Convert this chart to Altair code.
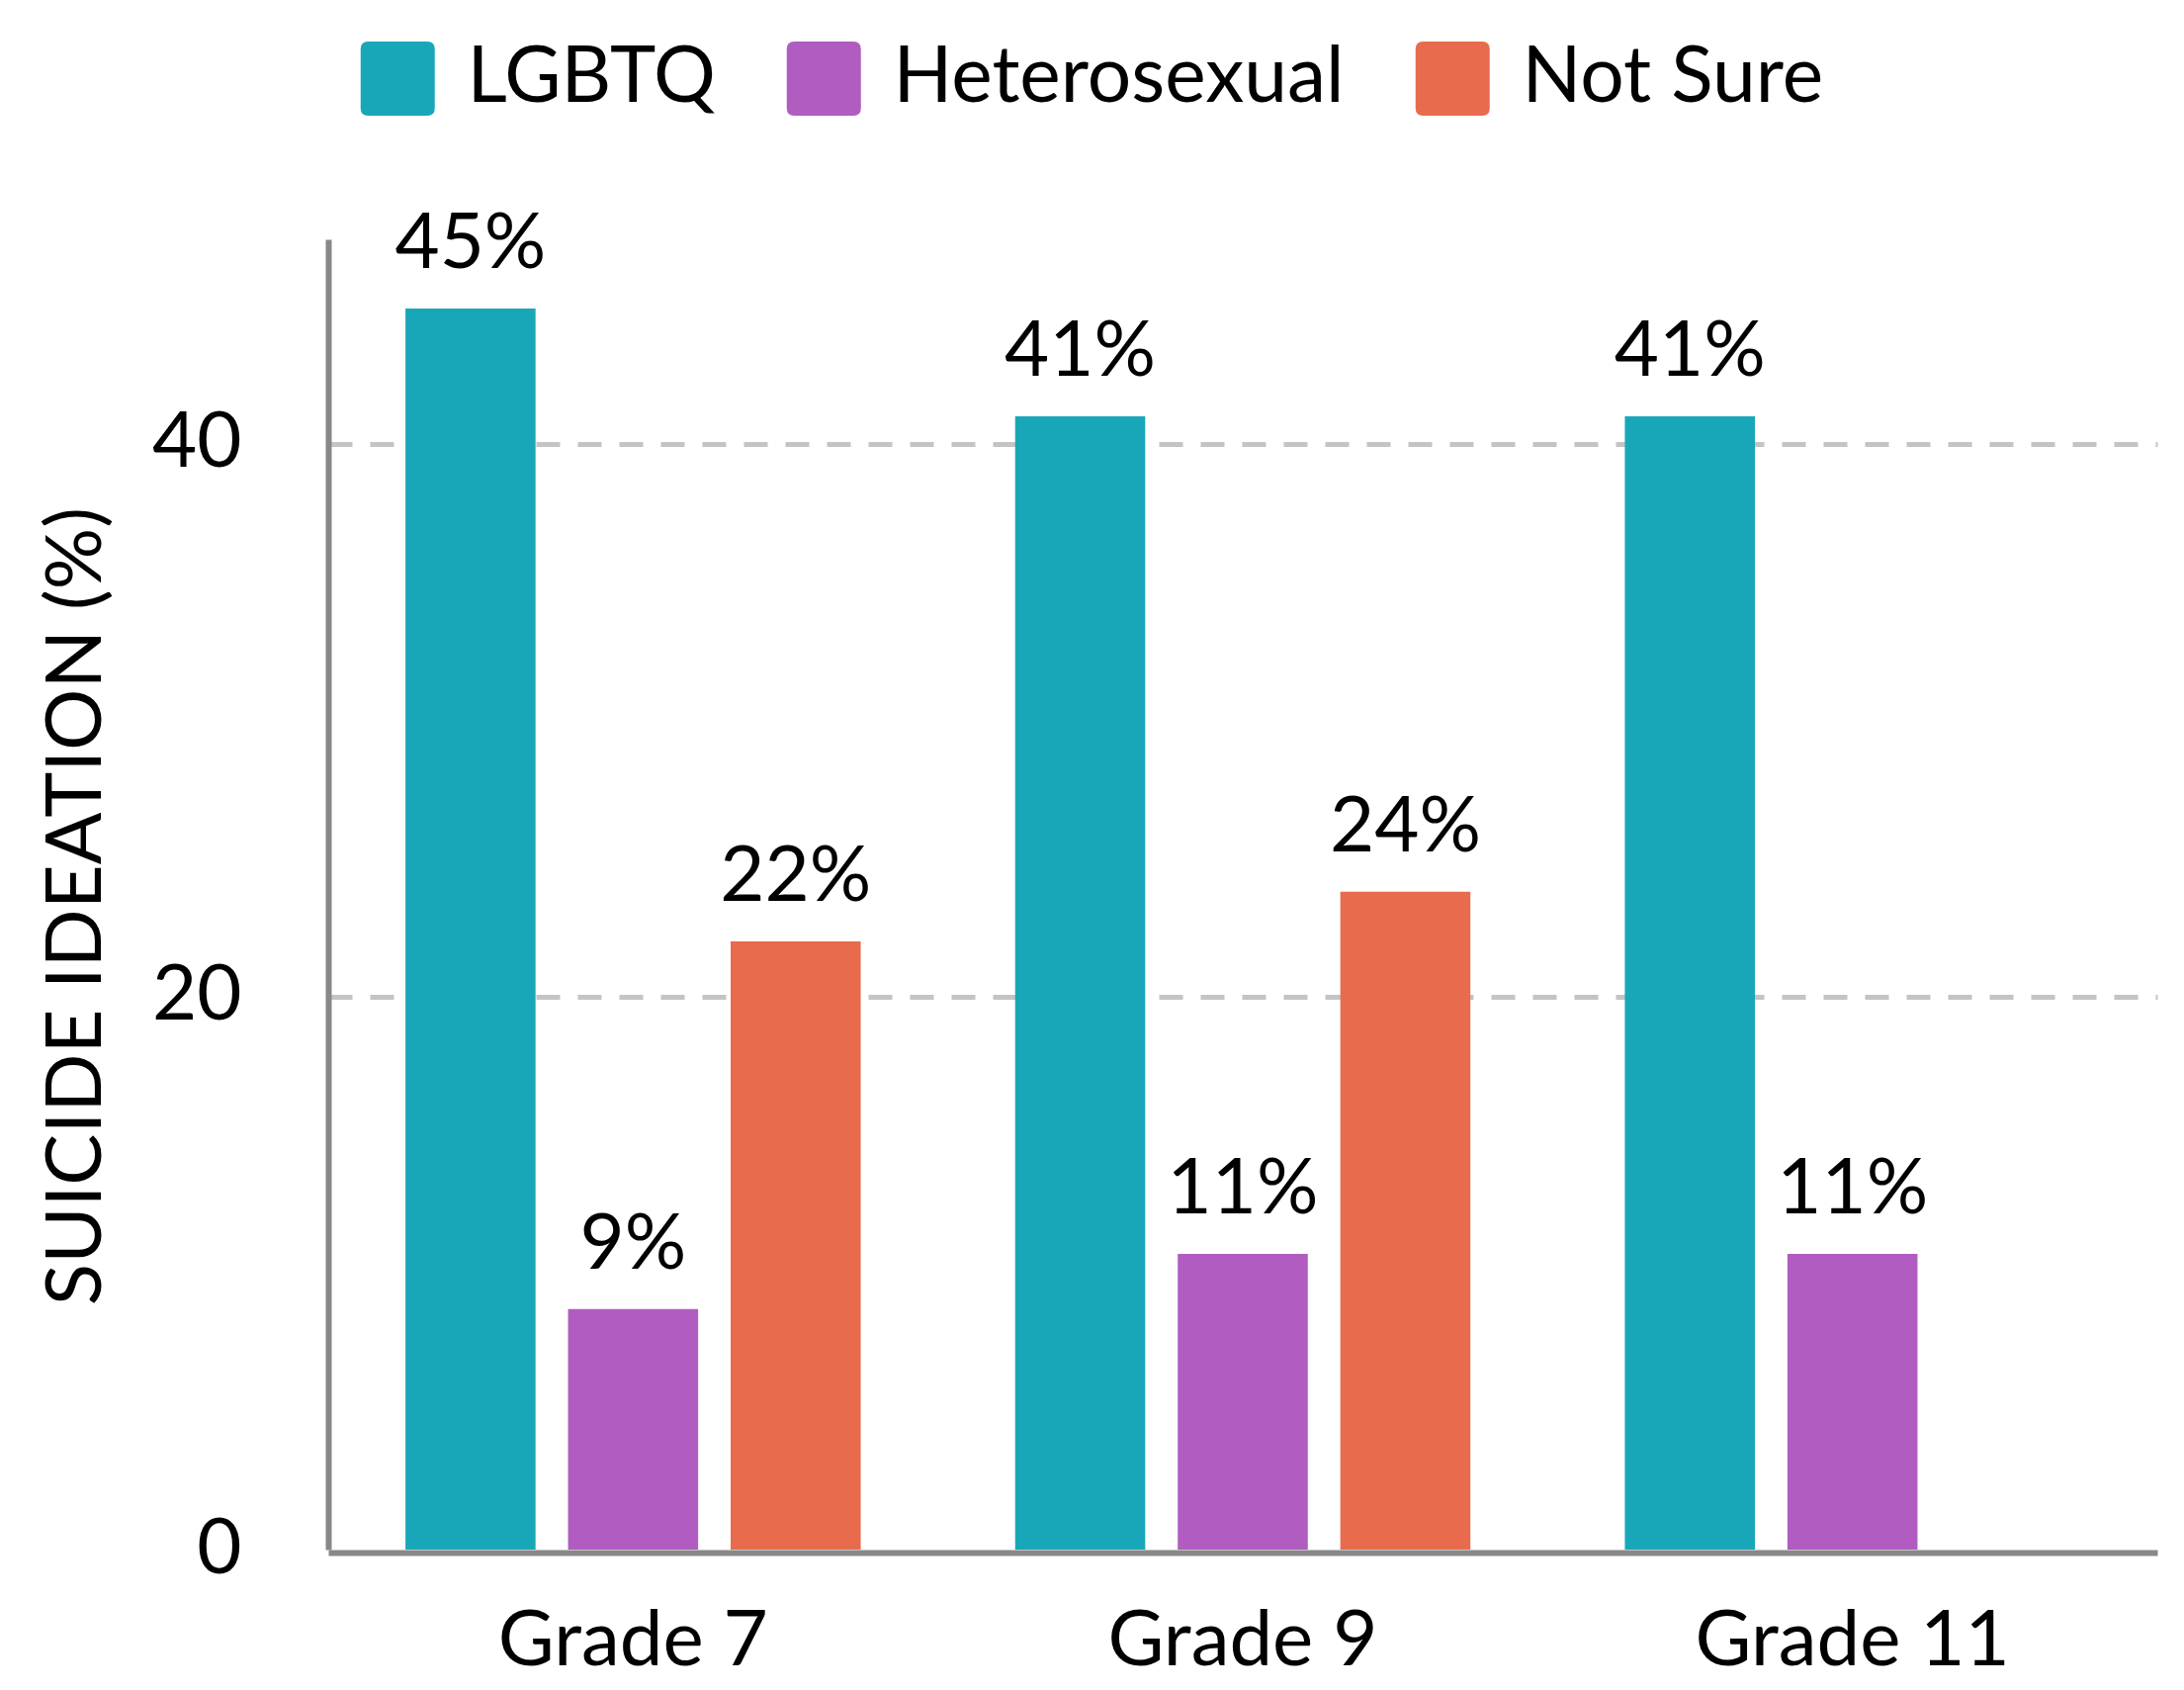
import altair as alt
import pandas as pd

grades = ["Grade 7", "Grade 7", "Grade 7", "Grade 9", "Grade 9", "Grade 9", "Grade 11", "Grade 11"]
groups = ["LGBTQ", "Heterosexual", "Not Sure", "LGBTQ", "Heterosexual", "Not Sure", "LGBTQ", "Heterosexual"]
values = [44.9, 8.7, 22.0, 41.0, 10.7, 23.8, 41.0, 10.7]
labels = ["45%", "9%", "22%", "41%", "11%", "24%", "41%", "11%"]

grade_order = ["Grade 7", "Grade 9", "Grade 11"]
group_order = ["LGBTQ", "Heterosexual", "Not Sure"]
group_colors = ["#18A7B8", "#B05CC1", "#E86B4E"]
y_ticks = [0, 20, 40]

df = pd.DataFrame({"grade": grades, "group": groups, "value": values, "label": labels})

FONT = "Lato"
FS = 78

rounded_square = ("M -0.8 -1 L 0.8 -1 Q 1 -1 1 -0.8 L 1 0.8 Q 1 1 0.8 1 "
                  "L -0.8 1 Q -1 1 -1 0.8 L -1 -0.8 Q -1 -1 -0.8 -1 Z")

x_enc = alt.X(
    "grade:N", sort=grade_order,
    scale=alt.Scale(paddingInner=0.2, paddingOuter=0.1),
    axis=alt.Axis(title=None, labelAngle=0, ticks=False, domain=True,
                  domainColor="#888888", domainWidth=6, offset=3,
                  labelPadding=51, labelFontSize=FS, labelColor="#000000",
                  labelFont=FONT, labelLimit=1000, grid=False),
)
xo_enc = alt.XOffset(
    "group:N", sort=group_order,
    scale=alt.Scale(paddingInner=0.2, paddingOuter=0.1),
)
y_enc = alt.Y(
    "value:Q",
    scale=alt.Scale(domain=[0, 47.4], nice=False),
    axis=alt.Axis(values=y_ticks, title="SUICIDE IDEATION (%)", ticks=False,
                  domain=True, domainColor="#888888", domainWidth=6,
                  grid=True, gridColor="#C4C4C4", gridWidth=5, gridDash=[24, 18],
                  gridOpacity=alt.ExprRef("datum.value == 0 ? 0 : 1"),
                  labelPadding=88, labelFontSize=FS, labelColor="#000000",
                  labelFont=FONT, titleFont=FONT, titleFontSize=FS,
                  titleFontWeight="normal", titleColor="#000000",
                  titleX=-231, titleY=674, titleBaseline="alphabetic",
                  titleAlign="center"),
)

bars = alt.Chart(df).mark_bar().encode(
    x=x_enc,
    xOffset=xo_enc,
    y=y_enc,
    color=alt.Color(
        "group:N", sort=group_order,
        scale=alt.Scale(domain=group_order, range=group_colors),
        legend=alt.Legend(title=None, orient="none", legendX=31, legendY=-202,
                          direction="horizontal", symbolType=rounded_square,
                          symbolSize=5625, symbolStrokeWidth=0,
                          labelFontSize=78.5, labelFont=FONT, labelColor="#000000",
                          labelOffset=31, columnPadding=70, padding=0,
                          labelLimit=1000, labelBaseline="middle"),
    ),
)

texts = alt.Chart(df).mark_text(
    dy=-41, baseline="alphabetic", fontSize=FS, font=FONT, color="#000000"
).encode(
    x=alt.X("grade:N", sort=grade_order),
    xOffset=alt.XOffset("group:N", sort=group_order),
    y=alt.Y("value:Q"),
    text="label:N",
)

chart = alt.layer(bars, texts).properties(
    width=1850, height=1325,
    autosize=alt.AutoSizeParams(type="none"),
    padding={"left": 324, "top": 234, "right": 16, "bottom": 134},
    background="#FFFFFF",
    view=alt.ViewBackground(stroke="transparent", strokeWidth=0),
).configure_view(stroke="transparent", strokeWidth=0).configure(font=FONT)

chart.save("out.html", embed_options={"renderer": "svg", "actions": False})
